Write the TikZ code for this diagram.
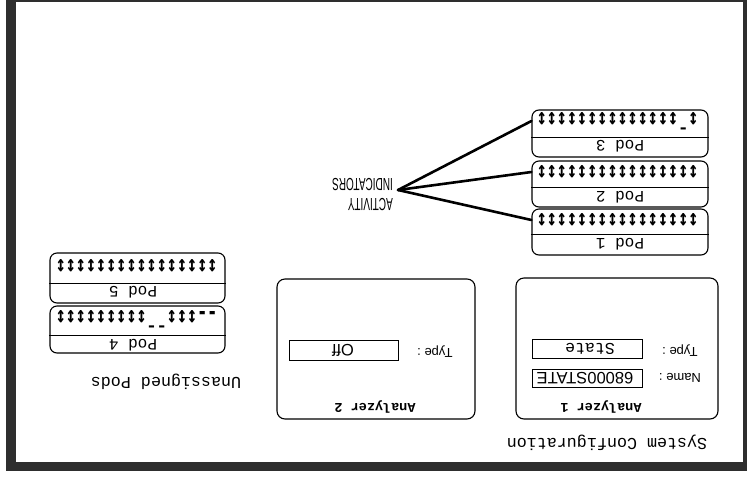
\documentclass[tikz,border=0pt]{standalone}
\usepackage{fontspec}
\newfontfamily\monof{Liberation Mono}
\newfontfamily\sansf{Liberation Sans}
\newfontfamily\narrowf[FakeStretch=0.57]{Liberation Sans}
\newfontfamily\arrf[FakeStretch=0.73]{DejaVu Sans Mono}
\tikzset{
  framefill/.style={fill=black!82},
  abox/.style={draw, line width=1.1pt, rounded corners=8pt, inner sep=0pt},
  podbox/.style={draw, line width=1.1pt, rounded corners=7pt, inner sep=0pt},
  field/.style={draw, line width=0.9pt, inner sep=0pt},
  ud/.style={rotate=180, inner sep=0pt},
  titletxt/.style={ud, font=\monof\fontsize{16.7}{18}\selectfont},
  antxt/.style={ud, font=\monof\bfseries\fontsize{13.5}{15}\selectfont},
  lbltxt/.style={ud, font=\sansf\fontsize{13}{14}\selectfont},
  valmono/.style={ud, font=\monof\fontsize{16.5}{18}\selectfont},
  valsans/.style={ud, font=\sansf\fontsize{16.5}{18}\selectfont},
  podtxt/.style={ud, font=\monof\fontsize{16}{18}\selectfont},
  arrtxt/.style={ud, font=\arrf\bfseries\fontsize{23}{24}\selectfont},
  conn/.style={line width=2.6pt, line cap=round},
  divider/.style={line width=1pt}
}
\begin{document}
\begin{tikzpicture}[x=1pt,y=-1pt]
\useasboundingbox (0,0) rectangle (747,480);
% scanned frame
\fill[framefill] (6,0) rectangle (16,471);
\fill[framefill] (6,462) rectangle (747,471);
\fill[framefill] (6,0) rectangle (747,1.5);
\fill[framefill] (743,0) rectangle (747,471);

% titles
\node[titletxt] (sc) at (607,443) {System Configuration};
\node[titletxt] (up) at (166,382) {Unassigned Pods};

% Analyzer 1
\node[abox, minimum width=202pt, minimum height=141pt] (an1) at (617,348.5) {};
\node[antxt] (an1t) at (601,407) {Analyzer 1};
\node[lbltxt] (an1n) at (680,378) {Name :};
\node[field, minimum width=110pt, minimum height=18pt] (an1nf) at (587,378) {};
\node[valsans] (an1nv) at (585,378) {68000STATE};
\node[lbltxt] (an1ty) at (680,351) {Type :};
\node[field, minimum width=110pt, minimum height=19pt] (an1tf) at (587,348.5) {};
\node[valmono] (an1tv) at (590,349) {State};

% Analyzer 2
\node[abox, minimum width=198pt, minimum height=140pt] (an2) at (376,349) {};
\node[antxt] (an2t) at (375,407) {Analyzer 2};
\node[lbltxt] (an2ty) at (435,352) {Type :};
\node[field, minimum width=109pt, minimum height=20pt] (an2tf) at (343.5,350) {};
\node[valsans] (an2tv) at (343,350) {Off};

% assigned pods
\node[podbox, minimum width=176pt, minimum height=47pt] (p3) at (620,133.5) {};
\draw[divider] ([yshift=-28pt]p3.north west) -- ([yshift=-28pt]p3.north east);
\node[arrtxt] (p3a) at (617.5,121) {↕¯↕↕↕↕↕↕↕↕↕↕↕↕↕↕};
\node[podtxt] (p3l) at (620,146) {Pod 3};

\node[podbox, minimum width=176pt, minimum height=46pt] (p2) at (620,184) {};
\draw[divider] ([yshift=-27pt]p2.north west) -- ([yshift=-27pt]p2.north east);
\node[arrtxt] (p2a) at (617.5,172) {↕↕↕↕↕↕↕↕↕↕↕↕↕↕↕↕};
\node[podtxt] (p2l) at (620,197) {Pod 2};

\node[podbox, minimum width=176pt, minimum height=46pt] (p1) at (620,232) {};
\draw[divider] ([yshift=-26pt]p1.north west) -- ([yshift=-26pt]p1.north east);
\node[arrtxt] (p1a) at (617.5,220) {↕↕↕↕↕↕↕↕↕↕↕↕↕↕↕↕};
\node[podtxt] (p1l) at (620,244) {Pod 1};

% unassigned pods
\node[podbox, minimum width=175pt, minimum height=50pt] (p5) at (137.5,278) {};
\draw[divider] ([yshift=-31pt]p5.north west) -- ([yshift=-31pt]p5.north east);
\node[arrtxt] (p5a) at (136.5,266) {↕↕↕↕↕↕↕↕↕↕↕↕↕↕↕↕};
\node[podtxt] (p5l) at (133,292) {Pod 5};

\node[podbox, minimum width=175pt, minimum height=47pt] (p4) at (137.5,329.5) {};
\draw[divider] ([yshift=-30pt]p4.north west) -- ([yshift=-30pt]p4.north east);
\node[arrtxt] (p4a) at (136.5,317.5) {\raisebox{-4pt}{{-}{-}}↕↕↕¯¯↕↕↕↕↕↕↕↕↕};
\node[podtxt] (p4l) at (133,345) {Pod 4};

% activity indicators
\coordinate (ai) at (398,190);
\node[rotate=180, anchor=west, align=left, inner sep=0pt,
      font=\narrowf\fontsize{17.5}{20}\selectfont] (lab) at (393,195) {ACTIVITY\\INDICATORS};
\draw[conn] (ai) -- (p3.west |- p3a);
\draw[conn] (ai) -- (p2.west |- p2a);
\draw[conn] (ai) -- (p1.west |- p1a);
\end{tikzpicture}
\end{document}
